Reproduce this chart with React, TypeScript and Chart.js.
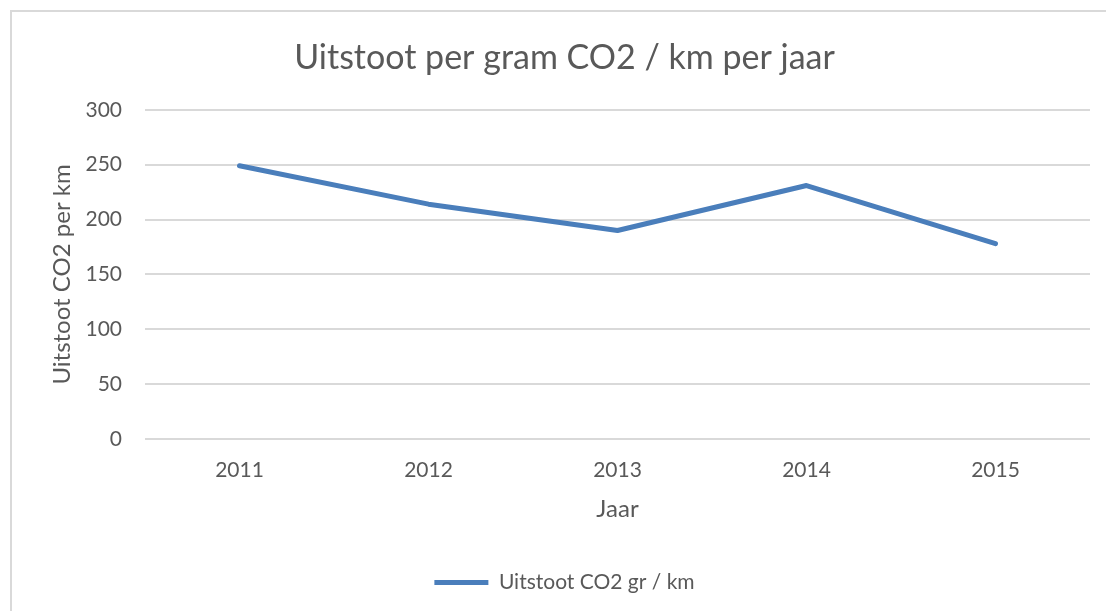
import React, { useEffect, useRef } from "react";
import { Chart, registerables } from "chart.js";

Chart.register(...registerables);

const categories = ["2011", "2012", "2013", "2014", "2015"];
const seriesLabel = "Uitstoot CO2 gr / km";
const seriesValues = [249, 214, 190, 231, 178];
const yTicks = [0, 50, 100, 150, 200, 250, 300];
const titleText = "Uitstoot per gram CO2 / km per jaar";
const xTitle = "Jaar";
const yTitle = "Uitstoot CO2 per km";

const FONT = "Lato, 'Open Sans', sans-serif";
const TEXT = "#595959";
const GRID = "#d9d9d9";
const LINE = "#4a7ebb";

export default function App() {
  const ref = useRef<HTMLCanvasElement | null>(null);
  useEffect(() => {
    if (!ref.current) return;
    const chart = new Chart(ref.current, {
      type: "line",
      data: {
        labels: categories,
        datasets: [
          {
            label: seriesLabel,
            data: seriesValues,
            borderColor: LINE,
            backgroundColor: LINE,
            borderWidth: 5,
            pointRadius: 0,
            borderCapStyle: "round",
            borderJoinStyle: "round",
            tension: 0,
          },
        ],
      },
      options: {
        responsive: false,
        animation: false,
        layout: { padding: { left: 39, right: 16, top: 11, bottom: 8 } },
        plugins: {
          title: {
            display: true,
            text: titleText,
            color: TEXT,
            font: { family: FONT, size: 34, weight: "normal" },
            padding: { top: 27, bottom: 31 },
          },
          legend: {
            display: true,
            position: "bottom",
            labels: {
              color: TEXT,
              font: { family: FONT, size: 21 },
              usePointStyle: true,
              pointStyle: "line",
              pointStyleWidth: 54,
              boxHeight: 21,
              padding: 10,
            },
          },
          tooltip: { enabled: false },
        },
        scales: {
          x: {
            offset: true,
            grid: { display: false, drawTicks: false },
            border: { display: false },
            ticks: {
              color: TEXT,
              font: { family: FONT, size: 21 },
              padding: 19,
              maxRotation: 0,
            },
            title: {
              display: true,
              text: xTitle,
              color: TEXT,
              font: { family: FONT, size: 24 },
              padding: { top: 0, bottom: 38 },
            },
            afterFit: (s: any) => {
              s.height = 123;
            },
          },
          y: {
            min: 0,
            max: 300,
            afterBuildTicks: (s: any) => {
              s.ticks = yTicks.map((v) => ({ value: v }));
            },
            grid: { color: GRID, lineWidth: 2, drawTicks: false },
            border: { display: false },
            ticks: {
              color: TEXT,
              font: { family: FONT, size: 21 },
              padding: 23,
            },
            title: {
              display: true,
              text: yTitle,
              color: TEXT,
              font: { family: FONT, size: 24 },
              padding: { top: 9, bottom: 0 },
            },
            afterFit: (s: any) => {
              s.width = 145 - 39;
            },
          },
        },
      },
    });
    return () => chart.destroy();
  }, []);

  return (
    <div
      style={{
        position: "fixed",
        left: 0,
        top: 0,
        width: 1106,
        height: 611,
        overflow: "hidden",
        background: "#fff",
      }}
    >
      <div
        style={{
          position: "absolute",
          left: 10,
          top: 10,
          width: 1300,
          height: 800,
          border: `2px solid ${GRID}`,
        }}
      />
      <canvas
        ref={ref}
        width={1106}
        height={611}
        style={{ position: "absolute", left: 0, top: 0, width: 1106, height: 611 }}
      />
    </div>
  );
}
